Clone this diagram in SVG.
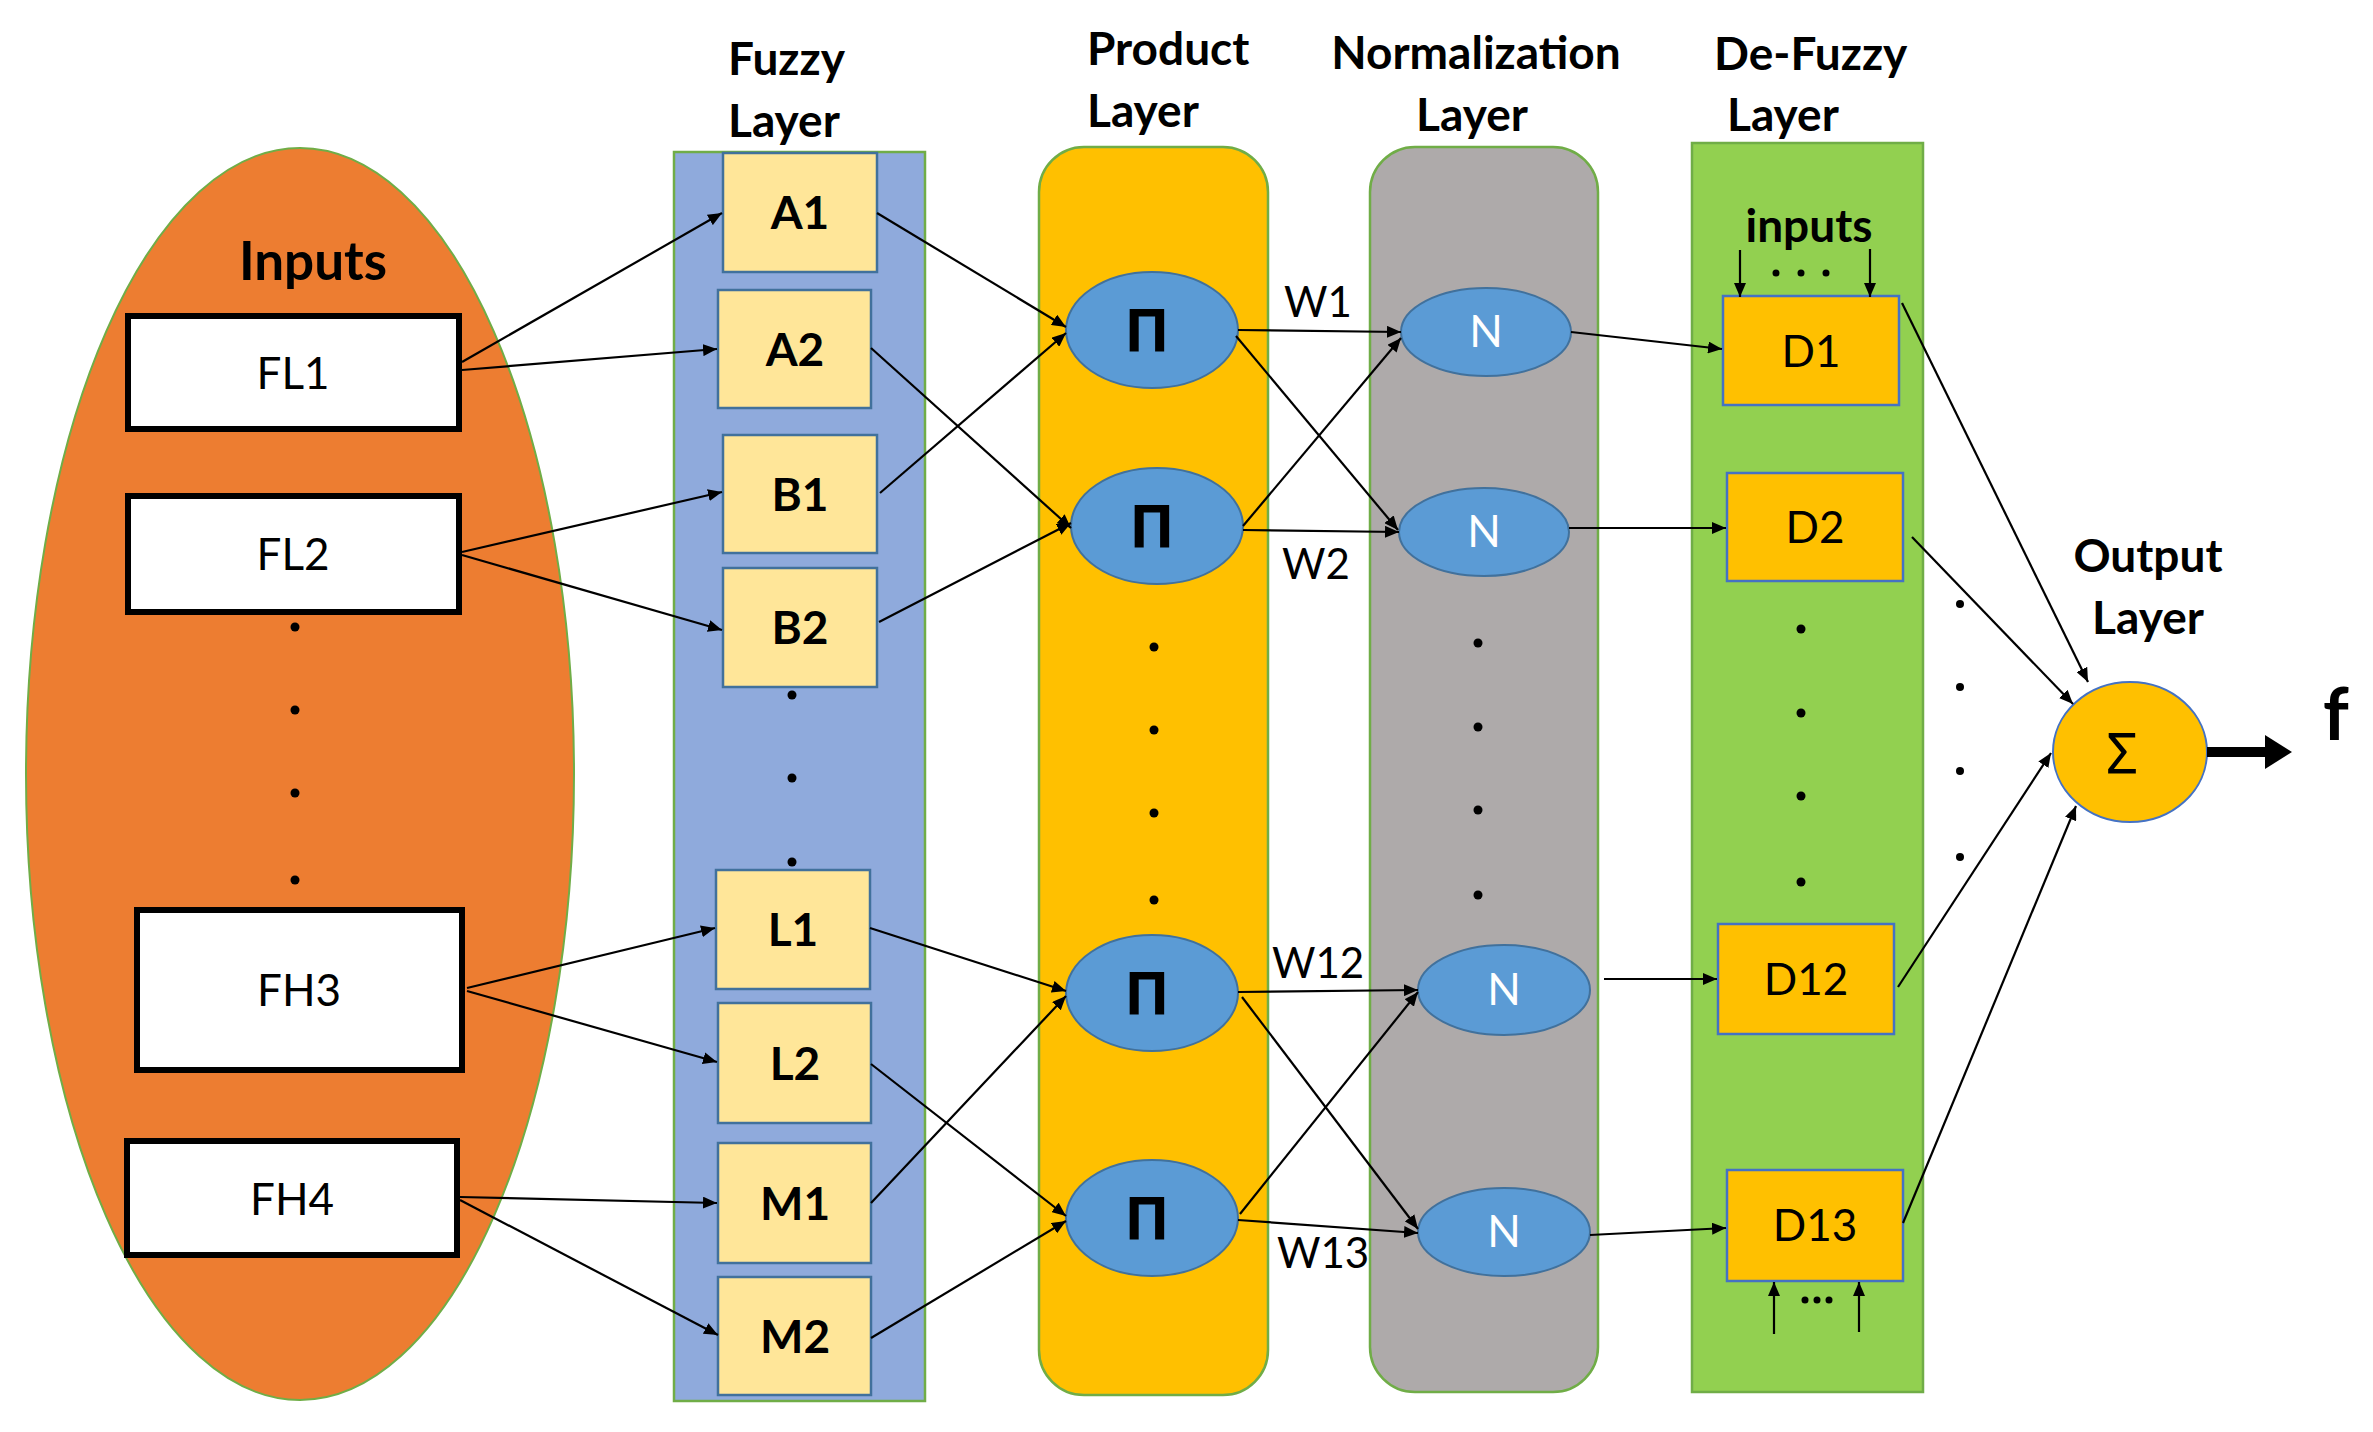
<svg xmlns="http://www.w3.org/2000/svg" width="2373" height="1432" viewBox="0 0 2373 1432">
<style>
.hdr{font-family:Lato,"Liberation Sans",sans-serif;font-weight:bold;font-size:46px;fill:#000}
.reg{font-family:Lato,"Liberation Sans",sans-serif;font-size:44px;fill:#000;text-anchor:middle}
.bld{font-family:Lato,"Liberation Sans",sans-serif;font-weight:bold;font-size:46px;fill:#000;text-anchor:middle}
.wt{font-family:Lato,"Liberation Sans",sans-serif;font-size:42px;fill:#000}
.nt{font-family:Lato,"Liberation Sans",sans-serif;font-size:44px;fill:#fff;text-anchor:middle}
.gr{font-family:"Noto Sans","DejaVu Sans",sans-serif;font-size:56px;fill:#000;text-anchor:middle}
.pi{font-weight:bold;font-size:60px}
.inbox{fill:#fff;stroke:#000;stroke-width:6}
.fz{fill:#FFE699;stroke:#41719C;stroke-width:2.5}
.pn{fill:#5B9BD5;stroke:#41719C;stroke-width:2}
.dz{fill:#FFC000;stroke:#4472C4;stroke-width:2.5}
.con line{stroke:#000;stroke-width:2.2;marker-end:url(#ah)}
.dot{fill:#000}
</style>
<defs>
<marker id="ah" viewBox="0 0 14 12" refX="14" refY="6" markerWidth="14" markerHeight="12" markerUnits="userSpaceOnUse" orient="auto"><path d="M0,0 L14,6 L0,12 z" fill="#000"/></marker>
</defs>
<rect width="2373" height="1432" fill="#fff"/>

<!-- panels -->
<g id="inputs-layer">
<ellipse cx="300" cy="774" rx="274" ry="626" fill="#ED7D31" stroke="#70AD47" stroke-width="2"/>
<text class="bld" x="313" y="280" style="font-size:53px">Inputs</text>
<circle class="dot" cx="295" cy="627" r="4.5"/><circle class="dot" cx="295" cy="710" r="4.5"/><circle class="dot" cx="295" cy="793" r="4.5"/><circle class="dot" cx="295" cy="880" r="4.5"/>
</g>
<g id="fuzzy-layer">
<rect x="674" y="152" width="251" height="1249" fill="#8FAADC" stroke="#70AD47" stroke-width="2.5"/>
<text class="hdr" x="728" y="75">Fuzzy</text>
<text class="hdr" x="728" y="137">Layer</text>
<circle class="dot" cx="792" cy="695" r="4.5"/><circle class="dot" cx="792" cy="778" r="4.5"/><circle class="dot" cx="792" cy="862" r="4.5"/>
</g>
<g id="product-layer">
<rect x="1039" y="147" width="229" height="1248" rx="45" fill="#FFC000" stroke="#70AD47" stroke-width="2.5"/>
<text class="hdr" x="1087" y="65">Product</text>
<text class="hdr" x="1087" y="127">Layer</text>
<circle class="dot" cx="1154" cy="647" r="4.5"/><circle class="dot" cx="1154" cy="730" r="4.5"/><circle class="dot" cx="1154" cy="813" r="4.5"/><circle class="dot" cx="1154" cy="900" r="4.5"/>
</g>
<g id="normalization-layer">
<rect x="1370" y="147" width="228" height="1245" rx="45" fill="#AEAAAA" stroke="#70AD47" stroke-width="2.5"/>
<text class="hdr" x="1476" y="69" text-anchor="middle">Normalization</text>
<text class="hdr" x="1472" y="131" text-anchor="middle">Layer</text>
<circle class="dot" cx="1478" cy="643" r="4.5"/><circle class="dot" cx="1478" cy="727" r="4.5"/><circle class="dot" cx="1478" cy="810" r="4.5"/><circle class="dot" cx="1478" cy="895" r="4.5"/>
</g>
<g id="defuzzy-layer">
<rect x="1692" y="143" width="231" height="1249" fill="#92D050" stroke="#70AD47" stroke-width="2.5"/>
<text class="hdr" x="1714" y="70">De-Fuzzy</text>
<text class="hdr" x="1727" y="131">Layer</text>
<text class="bld" x="1809" y="242">inputs</text>
<circle class="dot" cx="1776" cy="273" r="3.5"/><circle class="dot" cx="1801" cy="273" r="3.5"/><circle class="dot" cx="1826" cy="273" r="3.5"/>
<circle class="dot" cx="1801" cy="629" r="4.5"/><circle class="dot" cx="1801" cy="713" r="4.5"/><circle class="dot" cx="1801" cy="796" r="4.5"/><circle class="dot" cx="1801" cy="882" r="4.5"/>
<circle class="dot" cx="1805" cy="1300" r="3.5"/><circle class="dot" cx="1817" cy="1300" r="3.5"/><circle class="dot" cx="1829" cy="1300" r="3.5"/>
</g>
<g id="output-layer">
<text class="hdr" x="2148" y="572" text-anchor="middle">Output</text>
<text class="hdr" x="2148" y="634" text-anchor="middle">Layer</text>
<circle class="dot" cx="1960" cy="604" r="4"/><circle class="dot" cx="1960" cy="687" r="4"/><circle class="dot" cx="1960" cy="771" r="4"/><circle class="dot" cx="1960" cy="857" r="4"/>
</g>

<!-- input nodes -->
<g id="FL1"><rect class="inbox" x="128" y="316" width="331" height="113"/><text class="reg" x="293" y="389">FL1</text></g>
<g id="FL2"><rect class="inbox" x="128" y="496" width="331" height="116"/><text class="reg" x="293" y="570">FL2</text></g>
<g id="FH3"><rect class="inbox" x="137" y="910" width="325" height="160"/><text class="reg" x="299" y="1006">FH3</text></g>
<g id="FH4"><rect class="inbox" x="127" y="1141" width="330" height="114"/><text class="reg" x="292" y="1215">FH4</text></g>

<!-- fuzzy nodes -->
<g id="A1"><rect class="fz" x="723" y="153" width="154" height="119"/><text class="bld" x="800" y="229">A1</text></g>
<g id="A2"><rect class="fz" x="718" y="290" width="153" height="118"/><text class="bld" x="795" y="366">A2</text></g>
<g id="B1"><rect class="fz" x="723" y="435" width="154" height="118"/><text class="bld" x="800" y="511">B1</text></g>
<g id="B2"><rect class="fz" x="723" y="568" width="154" height="119"/><text class="bld" x="800" y="644">B2</text></g>
<g id="L1"><rect class="fz" x="716" y="870" width="154" height="119"/><text class="bld" x="793" y="946">L1</text></g>
<g id="L2"><rect class="fz" x="718" y="1003" width="153" height="120"/><text class="bld" x="795" y="1080">L2</text></g>
<g id="M1"><rect class="fz" x="718" y="1143" width="153" height="120"/><text class="bld" x="795" y="1220">M1</text></g>
<g id="M2"><rect class="fz" x="718" y="1277" width="153" height="118"/><text class="bld" x="795" y="1353">M2</text></g>

<!-- product nodes -->
<g id="P1"><ellipse class="pn" cx="1152" cy="330" rx="86" ry="58"/><text class="gr pi" x="1147" y="351">Π</text></g>
<g id="P2"><ellipse class="pn" cx="1157" cy="526" rx="86" ry="58"/><text class="gr pi" x="1152" y="547">Π</text></g>
<g id="P3"><ellipse class="pn" cx="1152" cy="993" rx="86" ry="58"/><text class="gr pi" x="1147" y="1014">Π</text></g>
<g id="P4"><ellipse class="pn" cx="1152" cy="1218" rx="86" ry="58"/><text class="gr pi" x="1147" y="1239">Π</text></g>

<!-- normalization nodes -->
<g id="N1"><ellipse class="pn" cx="1486" cy="332" rx="85" ry="44"/><text class="nt" x="1486" y="347">N</text></g>
<g id="N2"><ellipse class="pn" cx="1484" cy="532" rx="85" ry="44"/><text class="nt" x="1484" y="547">N</text></g>
<g id="N3"><ellipse class="pn" cx="1504" cy="990" rx="86" ry="45"/><text class="nt" x="1504" y="1005">N</text></g>
<g id="N4"><ellipse class="pn" cx="1504" cy="1232" rx="86" ry="44"/><text class="nt" x="1504" y="1247">N</text></g>

<!-- defuzzy nodes -->
<g id="D1"><rect class="dz" x="1723" y="296" width="176" height="109"/><text class="reg" x="1811" y="367">D1</text></g>
<g id="D2"><rect class="dz" x="1727" y="473" width="176" height="108"/><text class="reg" x="1815" y="543">D2</text></g>
<g id="D12"><rect class="dz" x="1718" y="924" width="176" height="110"/><text class="reg" x="1806" y="995">D12</text></g>
<g id="D13"><rect class="dz" x="1727" y="1170" width="176" height="111"/><text class="reg" x="1815" y="1241">D13</text></g>

<!-- output node -->
<g id="SUM"><ellipse cx="2130" cy="752" rx="77" ry="70" fill="#FFC000" stroke="#4472C4" stroke-width="2"/><text class="gr" x="2122" y="774">Σ</text></g>
<g id="f"><text class="hdr" x="2336" y="740" style="font-size:72px" text-anchor="middle">f</text></g>

<!-- weight labels -->
<g id="weights">
<text class="wt" x="1284" y="317">W1</text>
<text class="wt" x="1282" y="579">W2</text>
<text class="wt" x="1272" y="978">W12</text>
<text class="wt" x="1277" y="1268">W13</text>
</g>

<!-- connectors -->
<g id="connectors" class="con">
<line x1="462" y1="362" x2="722" y2="213"/>
<line x1="462" y1="370" x2="717" y2="349"/>
<line x1="462" y1="552" x2="722" y2="492"/>
<line x1="462" y1="555" x2="722" y2="630"/>
<line x1="467" y1="988" x2="715" y2="928"/>
<line x1="467" y1="991" x2="717" y2="1062"/>
<line x1="460" y1="1197" x2="717" y2="1203"/>
<line x1="460" y1="1200" x2="718" y2="1335"/>

<line x1="877" y1="213" x2="1066" y2="327"/>
<line x1="871" y1="348" x2="1071" y2="528"/>
<line x1="880" y1="493" x2="1066" y2="333"/>
<line x1="879" y1="622" x2="1071" y2="523"/>
<line x1="870" y1="928" x2="1066" y2="991"/>
<line x1="871" y1="1064" x2="1066" y2="1216"/>
<line x1="871" y1="1203" x2="1066" y2="996"/>
<line x1="871" y1="1338" x2="1066" y2="1221"/>

<line x1="1238" y1="330" x2="1401" y2="332"/>
<line x1="1236" y1="336" x2="1398" y2="530"/>
<line x1="1243" y1="526" x2="1401" y2="338"/>
<line x1="1243" y1="530" x2="1399" y2="532"/>
<line x1="1238" y1="992" x2="1418" y2="990"/>
<line x1="1242" y1="997" x2="1418" y2="1229"/>
<line x1="1240" y1="1214" x2="1418" y2="992"/>
<line x1="1238" y1="1220" x2="1418" y2="1233"/>

<line x1="1571" y1="332" x2="1722" y2="349"/>
<line x1="1569" y1="528" x2="1726" y2="528"/>
<line x1="1604" y1="979" x2="1717" y2="979"/>
<line x1="1590" y1="1235" x2="1726" y2="1228"/>

<line x1="1902" y1="303" x2="2088" y2="682"/>
<line x1="1912" y1="537" x2="2073" y2="704"/>
<line x1="1898" y1="987" x2="2051" y2="753"/>
<line x1="1903" y1="1223" x2="2076" y2="806"/>

<line x1="1740" y1="250" x2="1740" y2="297"/>
<line x1="1870" y1="249" x2="1870" y2="297"/>
<line x1="1774" y1="1334" x2="1774" y2="1282"/>
<line x1="1859" y1="1332" x2="1859" y2="1282"/>
<path d="M2207,752 L2270,752" stroke="#000" stroke-width="10" fill="none"/>
<path d="M2265,735 L2292,752 L2265,769 z" fill="#000"/>
</g>
</svg>
